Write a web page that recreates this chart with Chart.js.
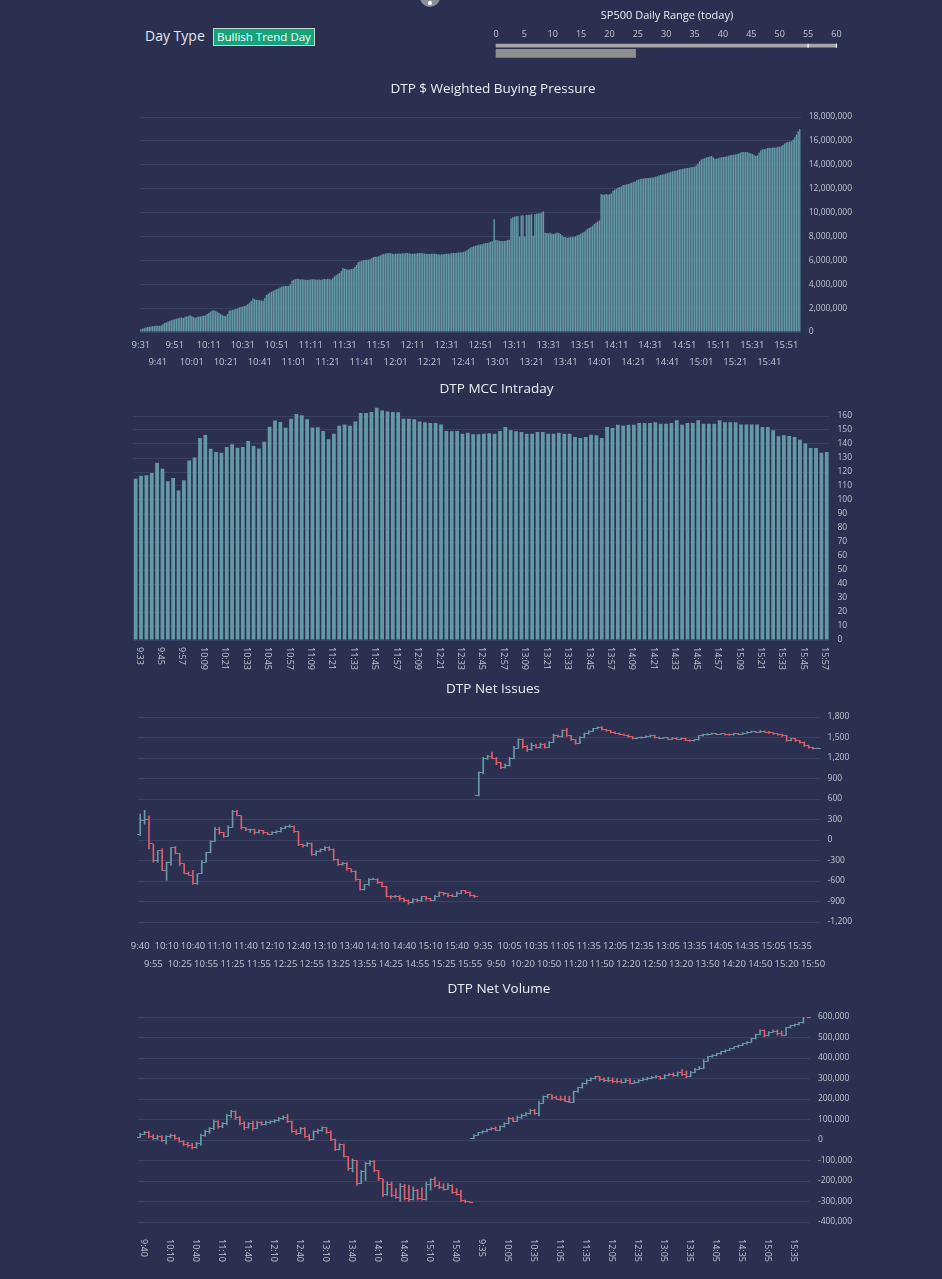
<!DOCTYPE html>
<html lang="en">
<head>
<meta charset="UTF-8">
<title>DTP Intraday</title>
<script src="https://cdn.jsdelivr.net/npm/chart.js"></script>
<style>
  body {
    margin: 0;
    width: 942px;
    height: 1279px;
    overflow: hidden;
    position: relative;
    background: #2b3050;
    font-family: "Open Sans", sans-serif;
    color: #e4e6ee;
  }
  .box { position: absolute; left: 126px; width: 734px; }
  #dayType { position: absolute; left: 145px; top: 26px; font-size: 14px; }
  #badge {
    position: absolute; left: 213px; top: 28px; width: 100px; height: 16px;
    background: #16a27a; border: 1px solid #b9dccf; color: #fff;
    font-size: 11.5px; line-height: 16px; text-align: center;
  }
  #knob {
    position: absolute; left: 420px; top: -13px; width: 20px; height: 20px;
    border-radius: 50%; background: #8d909b;
  }
  #knob::after {
    content: ""; position: absolute; left: 8px; top: 14px; width: 4px; height: 4px;
    border-radius: 50%; background: #fff;
  }
</style>
</head>
<body>
<div id="knob"></div>
<div id="dayType">Day Type</div>
<div id="badge">Bullish Trend Day</div>
<div style="position:absolute; left:486px; top:4px; width:362px; height:58px;"><canvas id="rangeChart"></canvas></div>
<div class="box" style="top:75px; height:297px;"><canvas id="bpChart"></canvas></div>
<div class="box" style="top:375px; height:299px;"><canvas id="mccChart"></canvas></div>
<div class="box" style="top:675px; height:298px;"><canvas id="issuesChart"></canvas></div>
<div class="box" style="top:975px; height:297px;"><canvas id="volumeChart"></canvas></div>

<script>
// ---- data ----
const rangeTicks = [0, 5, 10, 15, 20, 25, 30, 35, 40, 45, 50, 55, 60];
const spRangeToday = 24.6;

// $ weighted buying pressure, millions, one bar per minute from 9:31
const bpValues = [
  0.2,0.27,0.32,0.37,0.42,0.45,0.47,0.49,0.5,0.52,
  0.53,0.53,0.55,0.65,0.76,0.8,0.86,0.93,0.98,1.03,
  1.07,1.1,1.15,1.2,1.22,1.18,1.27,1.3,1.35,1.4,
  1.32,1.25,1.2,1.24,1.28,1.3,1.33,1.36,1.4,1.5,
  1.6,1.69,1.78,1.83,1.75,1.69,1.6,1.5,1.4,1.36,
  1.32,1.5,1.77,1.8,1.85,1.89,1.93,1.98,2.05,2.1,
  2.14,2.17,2.25,2.35,2.45,2.6,2.8,2.75,2.7,2.68,
  2.65,2.63,2.62,2.85,3.1,3.2,3.3,3.38,3.45,3.52,
  3.58,3.65,3.72,3.8,3.84,3.86,3.85,3.86,4.0,4.3,
  4.38,4.42,4.45,4.43,4.4,4.42,4.4,4.38,4.35,4.37,
  4.4,4.42,4.42,4.4,4.38,4.4,4.37,4.4,4.43,4.42,
  4.45,4.42,4.4,4.5,4.65,4.75,4.85,4.93,5.1,5.35,
  5.3,5.25,5.21,5.25,5.28,5.3,5.45,5.6,5.83,5.9,
  5.95,6.0,6.02,6.04,6.06,6.1,6.2,6.28,6.3,6.32,
  6.34,6.4,6.48,6.54,6.58,6.6,6.62,6.6,6.56,6.54,
  6.55,6.56,6.58,6.56,6.6,6.58,6.62,6.62,6.58,6.56,
  6.55,6.56,6.58,6.6,6.62,6.62,6.6,6.56,6.55,6.54,
  6.52,6.55,6.56,6.56,6.54,6.5,6.48,6.48,6.5,6.54,
  6.56,6.56,6.58,6.6,6.62,6.62,6.64,6.66,6.68,6.68,
  6.72,6.76,6.85,6.95,7.05,7.12,7.18,7.22,7.26,7.3,
  7.32,7.35,7.4,7.42,7.45,7.5,7.55,7.6,9.45,7.7,
  7.68,7.65,7.62,7.6,7.62,7.65,7.7,7.72,9.5,9.6,
  9.65,9.7,9.72,8.0,9.75,9.78,8.0,9.8,9.8,9.82,
  9.85,8.05,9.85,9.9,9.92,9.95,10.0,10.1,8.3,8.28,
  8.25,8.3,8.22,8.2,8.25,8.3,8.28,8.2,8.1,7.95,
  7.94,7.9,7.92,7.95,7.94,7.98,8.0,8.1,8.15,8.22,
  8.3,8.4,8.5,8.64,8.7,8.8,8.9,9.05,9.15,9.25,
  9.33,11.55,11.5,11.52,11.55,11.5,11.55,11.6,11.82,11.9,
  12.0,12.1,12.15,12.2,12.3,12.32,12.35,12.4,12.46,12.5,
  12.55,12.6,12.7,12.75,12.8,12.82,12.85,12.88,12.9,12.9,
  12.92,12.93,12.95,13.0,13.05,13.1,13.15,13.18,13.2,13.25,
  13.3,13.35,13.4,13.45,13.48,13.5,13.55,13.6,13.62,13.65,
  13.68,13.7,13.72,13.75,13.8,13.82,13.84,13.95,14.1,14.3,
  14.45,14.5,14.55,14.6,14.65,14.7,14.73,14.6,14.5,14.5,
  14.55,14.6,14.62,14.65,14.68,14.7,14.75,14.8,14.82,14.85,
  14.87,14.9,14.95,15.0,15.06,15.05,15.08,15.05,15.0,14.95,
  14.9,14.85,14.73,14.8,15.0,15.2,15.29,15.3,15.35,15.4,
  15.42,15.4,15.45,15.42,15.45,15.5,15.5,15.55,15.65,15.78,
  15.85,15.9,15.95,15.98,16.1,16.3,16.53,16.8,17.0
];

// MCC, one bar every 3 minutes from 9:33
const mccValues = [
  115.1,117.3,117.7,119.2,126.6,122.3,113.4,115.8,106.7,114.1,
  128.2,130.4,144.2,146.4,136.6,134.2,133.7,137.8,139.9,137.3,
  137.8,142.1,138.5,136.8,141.6,152.4,156.7,155.7,151.6,158.1,
  161.4,160.5,157.6,151.7,151.9,149.3,143.4,147.4,153.1,154.0,
  153.1,156.0,162.1,162.1,162.9,166.0,164.0,163.3,162.9,162.6,
  158.1,158.1,157.6,156.0,155.5,155.0,155.0,154.0,149.3,149.1,
  149.3,147.4,148.1,146.9,146.9,147.4,147.6,147.4,149.3,152.2,
  149.8,149.1,148.6,147.4,147.4,148.6,148.6,147.4,147.4,148.1,
  147.4,147.4,145.0,144.3,145.0,146.6,146.2,144.3,152.2,151.4,
  153.8,153.3,153.8,153.8,155.0,155.0,155.0,155.5,154.5,154.5,
  155.0,156.9,153.8,155.0,155.0,156.9,154.5,154.5,154.5,156.9,
  155.5,155.5,155.5,154.0,154.0,154.0,154.0,152.2,152.2,149.8,
  145.5,146.2,145.7,145.0,143.1,140.3,137.2,137.2,133.8,134.3
];

// net issues, 5 minute bars [open, high, low, close]: previous session from 9:40, today from 9:30
const issuesPrev = [
  [87,378,63,290],[290,436,232,305],[305,353,-131,-58],[-58,-58,-324,-300],[-300,-155,-324,-155],
  [-155,-131,-445,-445],[-445,-324,-590,-324],[-324,-106,-373,-106],[-106,-97,-203,-194],[-194,-194,-373,-348],
  [-348,-348,-494,-484],[-484,-470,-518,-518],[-518,-445,-649,-639],[-639,-494,-649,-494],[-494,-300,-494,-324],
  [-324,-179,-324,-189],[-189,-10,-189,-19],[-19,184,-19,160],[160,184,87,111],[111,111,39,48],
  [48,208,48,184],[184,436,184,416],[416,436,353,353],[353,353,160,184],[184,184,136,150],
  [150,160,111,155],[155,160,87,111],[111,150,100,135],[135,140,87,106],[106,110,77,87],
  [87,121,80,111],[111,136,100,126],[126,184,120,174],[174,203,165,194],[194,223,185,198],
  [198,203,111,126],[126,126,-82,-73],[-73,-60,-106,-82],[-82,-34,-95,-48],[-48,-40,-227,-213],
  [-213,-155,-227,-165],[-165,-131,-175,-145],[-145,-97,-155,-106],[-106,-97,-155,-140],[-140,-130,-300,-290],
  [-290,-280,-373,-358],[-358,-324,-370,-339],[-339,-330,-445,-421],[-421,-421,-470,-455],[-455,-450,-590,-581],
  [-581,-575,-736,-726],[-726,-649,-736,-658],[-658,-566,-665,-576],[-576,-557,-580,-571],[-571,-565,-639,-620],
  [-620,-615,-687,-678],[-678,-678,-832,-823],[-823,-815,-857,-832],[-832,-808,-840,-823],[-823,-815,-881,-857],
  [-857,-850,-905,-881],[-881,-875,-939,-920],[-920,-857,-925,-871],[-871,-860,-905,-890],[-890,-823,-900,-832],
  [-832,-825,-881,-862],[-862,-855,-890,-881],[-881,-808,-885,-823],[-823,-760,-830,-774],[-774,-765,-808,-784],
  [-784,-780,-832,-808],[-808,-800,-830,-823],[-823,-760,-828,-784],[-784,-736,-790,-745],[-745,-740,-784,-765],
  [-765,-760,-823,-808],[-808,-805,-842,-832]
];
const issuesToday = [
  [644,997,644,983],[983,1210,968,1191],[1191,1239,1180,1215],[1215,1287,1191,1200],[1200,1210,1104,1128],
  [1128,1135,1045,1065],[1065,1113,1055,1090],[1090,1210,1080,1191],[1191,1370,1185,1345],[1345,1481,1340,1467],
  [1467,1481,1345,1370],[1370,1380,1297,1321],[1321,1418,1310,1390],[1390,1400,1345,1355],[1355,1418,1345,1400],
  [1400,1410,1345,1360],[1360,1442,1350,1430],[1430,1549,1425,1529],[1529,1540,1500,1510],[1510,1612,1505,1597],
  [1597,1636,1515,1525],[1525,1530,1452,1465],[1465,1470,1404,1418],[1418,1515,1410,1500],[1500,1563,1495,1555],
  [1555,1597,1550,1590],[1590,1636,1585,1630],[1630,1655,1625,1650],[1650,1660,1607,1615],[1615,1620,1588,1600],
  [1600,1605,1568,1578],[1578,1583,1554,1562],[1562,1568,1539,1545],[1545,1550,1529,1535],[1535,1540,1500,1508],
  [1508,1512,1481,1490],[1490,1500,1480,1496],[1496,1510,1488,1504],[1504,1525,1498,1515],[1515,1539,1510,1530],
  [1530,1535,1490,1500],[1500,1505,1481,1490],[1490,1500,1485,1495],[1495,1500,1471,1478],[1478,1500,1472,1492],
  [1492,1498,1467,1475],[1475,1490,1470,1485],[1485,1490,1452,1460],[1460,1465,1442,1450],[1450,1471,1445,1465],
  [1465,1529,1460,1525],[1525,1549,1520,1540],[1540,1558,1535,1550],[1550,1563,1545,1555],[1555,1560,1540,1545],
  [1545,1558,1540,1552],[1552,1558,1535,1545],[1545,1550,1530,1540],[1540,1563,1535,1555],[1555,1560,1540,1548],
  [1548,1573,1545,1565],[1565,1588,1560,1580],[1580,1595,1572,1588],[1588,1592,1570,1575],[1575,1600,1570,1595],
  [1595,1598,1575,1580],[1580,1590,1560,1568],[1568,1572,1545,1552],[1552,1558,1535,1545],[1545,1550,1515,1525],
  [1525,1530,1442,1455],[1455,1490,1450,1480],[1480,1485,1442,1455],[1455,1460,1418,1430],[1430,1435,1370,1385],
  [1385,1390,1345,1355],[1355,1360,1331,1340],[1340,1350,1335,1345]
];

// net volume in thousands, same bars
const volumePrev = [
  [13,32,13,29],[29,42,26,37],[37,42,10,16],[16,26,0,5],[5,24,0,18],
  [18,21,-8,-2],[-2,21,-19,16],[16,29,10,24],[24,26,0,5],[5,13,-11,-6],
  [-6,-3,-27,-21],[-21,-11,-35,-29],[-29,-16,-44,-37],[-37,-11,-40,-16],[-16,29,-27,24],
  [24,48,18,42],[42,61,32,56],[56,97,50,92],[92,94,58,66],[66,85,60,80],
  [80,126,74,118],[118,145,110,140],[140,142,100,110],[110,116,74,80],[80,90,50,60],
  [60,85,58,80],[80,92,48,55],[55,92,55,85],[85,90,72,75],[75,92,72,85],
  [85,94,80,88],[88,100,84,95],[95,110,92,105],[105,118,100,112],[112,126,85,90],
  [90,92,37,42],[42,50,26,32],[32,61,30,55],[55,60,13,18],[18,29,-3,2],
  [2,45,0,40],[40,53,32,48],[48,64,42,60],[60,61,32,35],[35,45,-3,2],
  [2,5,-52,-45],[-45,-19,-48,-24],[-24,-20,-84,-80],[-80,-80,-148,-140],[-140,-92,-156,-100],
  [-100,-100,-221,-210],[-210,-148,-213,-155],[-155,-108,-197,-115],[-115,-100,-124,-105],[-105,-100,-156,-150],
  [-150,-148,-197,-190],[-190,-189,-277,-265],[-265,-205,-270,-215],[-215,-205,-277,-270],[-270,-237,-285,-280],
  [-280,-213,-300,-225],[-225,-216,-293,-285],[-285,-221,-300,-290],[-290,-229,-293,-245],[-245,-240,-293,-285],
  [-285,-232,-293,-288],[-288,-205,-293,-215],[-215,-189,-245,-195],[-195,-181,-229,-222],[-222,-205,-237,-230],
  [-230,-213,-245,-240],[-240,-213,-242,-220],[-220,-218,-261,-255],[-255,-237,-269,-265],[-265,-245,-300,-295],
  [-295,-293,-306,-302],[-302,-300,-306,-305]
];
const volumeToday = [
  [5,26,5,24],[24,37,22,35],[35,45,33,42],[42,53,40,50],[50,61,48,58],
  [58,64,45,48],[48,69,46,65],[65,85,62,80],[80,110,78,105],[105,110,90,92],
  [92,118,90,108],[108,126,105,118],[118,134,116,128],[128,150,126,145],[145,150,125,130],
  [130,190,118,180],[180,214,178,212],[212,223,205,220],[220,220,198,205],[205,214,198,200],
  [200,214,193,198],[198,214,187,190],[190,214,182,185],[185,239,182,235],[235,258,232,255],
  [255,279,252,275],[275,295,272,290],[290,303,288,300],[300,311,298,308],[308,311,287,295],
  [295,303,284,290],[290,306,284,292],[292,303,279,285],[285,300,279,283],[283,295,277,282],
  [282,300,280,292],[292,300,274,278],[278,290,276,282],[282,295,280,290],[290,303,288,295],
  [295,306,293,300],[300,311,298,305],[305,316,303,310],[310,311,295,300],[300,319,298,315],
  [315,324,313,320],[320,327,310,313],[313,332,311,330],[330,343,315,320],[320,337,303,310],
  [310,335,308,330],[330,350,328,345],[345,359,343,350],[350,392,348,385],[385,408,383,405],
  [405,416,403,412],[412,424,410,420],[420,432,418,430],[430,440,428,438],[438,448,436,446],
  [446,456,444,454],[454,464,452,462],[462,472,460,470],[470,480,468,478],[478,497,476,495],
  [495,516,493,514],[514,537,512,535],[535,537,503,510],[510,529,508,525],[525,537,523,530],
  [530,537,511,518],[518,532,508,512],[512,550,510,548],[548,560,546,558],[558,566,555,563],
  [563,574,561,572],[572,606,570,603],[603,606,595,600]
];

function timeRange(start, end, step) {
  const toMin = s => { const [h, m] = s.split(':').map(Number); return h * 60 + m; };
  const out = [];
  for (let t = toMin(start); t <= toMin(end); t += step) {
    out.push(Math.floor(t / 60) + ':' + String(t % 60).padStart(2, '0'));
  }
  return out;
}

const bpTimes = timeRange('9:31', '15:59', 1);
const mccTimes = timeRange('9:33', '16:00', 3);
const barTimes = timeRange('9:40', '16:00', 5).concat(timeRange('9:30', '15:55', 5));

// ---- style ----
const GRID = '#3b4165';
const TICK = '#c3c6d2';
const TITLE = '#eceef4';
const BAR = '#6399a4';
const UP = '#6a98a6';
const DOWN = '#dc5f6c';

Chart.defaults.font.family = '"Open Sans", sans-serif';
Chart.defaults.color = TICK;
Chart.defaults.animation = false;

function chartTitle(text, bottom) {
  return {
    display: true, text, color: TITLE,
    font: { size: 13.5, weight: 'normal' },
    padding: { top: 6, bottom: bottom }
  };
}

function rightAxis(min, max, step) {
  return {
    position: 'right', min, max,
    ticks: { stepSize: step, padding: 8, color: TICK, font: { size: 8.5 }, includeBounds: false },
    grid: { color: GRID, drawTicks: false },
    border: { display: false }
  };
}

function twoRowAxis(labels, every, pad, lineHeight, height, left) {
  return {
    grid: { display: false, drawTicks: false },
    border: { display: false },
    ticks: {
      autoSkip: false, maxRotation: 0, minRotation: 0, padding: pad, color: TICK,
      font: { size: 9.5, lineHeight: lineHeight + 'px' },
      callback(v, i) {
        if (i % (2 * every) === 0) return [labels[i], ''];
        if (i % (2 * every) === every) return ['', labels[i]];
        return null;
      }
    },
    afterFit(s) { s.height = height; s.paddingLeft = left; s.paddingRight = 0; }
  };
}

function verticalAxis(height) {
  return {
    grid: { display: false, drawTicks: false },
    border: { display: false },
    ticks: { display: false, autoSkip: false },
    afterFit(s) { s.height = height; }
  };
}

// tick labels that read top to bottom
const verticalTicks = {
  id: 'verticalTicks',
  afterDraw(chart, args, opts) {
    const sc = chart.scales.x;
    const ctx = chart.ctx;
    ctx.save();
    ctx.fillStyle = TICK;
    ctx.font = '9px "Open Sans", sans-serif';
    ctx.textAlign = 'left';
    ctx.textBaseline = 'middle';
    chart.data.labels.forEach((lab, i) => {
      if (i % opts.every) return;
      ctx.save();
      ctx.translate(sc.getPixelForTick(i) + 3.5, sc.top + opts.pad);
      ctx.rotate(Math.PI / 2);
      ctx.fillText(lab, 0, 0);
      ctx.restore();
    });
    ctx.restore();
  }
};

const tickCache = {};
function tickImage(color, side) {
  const key = color + side;
  if (!tickCache[key]) {
    const c = document.createElement('canvas');
    c.width = 7;
    c.height = 1;
    const g = c.getContext('2d');
    g.fillStyle = color;
    g.fillRect(side === 'open' ? 0 : 4, 0, 3, 1);
    tickCache[key] = c;
  }
  return tickCache[key];
}

function ohlcDatasets(rows, mult) {
  const colors = rows.map(r => (r[3] >= r[0] ? UP : DOWN));
  return [
    { type: 'bar', data: rows.map(r => [r[2] * mult, r[1] * mult]), backgroundColor: colors, barThickness: 1, grouped: false },
    { type: 'line', data: rows.map(r => r[0] * mult), showLine: false, pointRadius: 2, pointHoverRadius: 2,
      pointStyle: colors.map(c => tickImage(c, 'open')) },
    { type: 'line', data: rows.map(r => r[3] * mult), showLine: false, pointRadius: 2, pointHoverRadius: 2,
      pointStyle: colors.map(c => tickImage(c, 'close')) }
  ];
}

const basePlugins = (text, bottom) => ({ legend: { display: false }, tooltip: { enabled: false }, title: chartTitle(text, bottom) });

// ---- SP500 daily range ----
// row 1 holds the ruler with its tick marks, row 2 the range bar
new Chart(document.getElementById('rangeChart'), {
  type: 'bar',
  data: {
    datasets: [
      { data: [{ x: [0, 60], y: 1 }], backgroundColor: '#a6a6a8', barThickness: 3, grouped: false, order: 2, clip: false },
      { data: [{ x: [0, spRangeToday], y: 2 }], backgroundColor: '#8f8f90', barThickness: 8, grouped: false, order: 2, clip: false },
      { type: 'line', data: rangeTicks.map(v => ({ x: v, y: 1 })), showLine: false, order: 0, clip: false,
        pointStyle: 'line', rotation: 90, pointRadius: 2, pointBorderColor: '#ffffff', pointBorderWidth: 1.2 }
    ]
  },
  options: {
    indexAxis: 'y',
    responsive: true, maintainAspectRatio: false,
    layout: { padding: { left: 10, right: 10, bottom: 4 } },
    plugins: {
      legend: { display: false }, tooltip: { enabled: false },
      title: { display: true, text: 'SP500 Daily Range (today)', color: TITLE, font: { size: 11, weight: 'normal' }, padding: { top: 5, bottom: 0 } }
    },
    scales: {
      x: {
        position: 'top', min: 0, max: 60,
        ticks: { stepSize: 5, padding: 6.4, color: TICK, font: { size: 9 } },
        grid: { display: false, drawTicks: false },
        border: { display: false }
      },
      y: { type: 'linear', display: false, reverse: true, offset: false, min: 1.021, max: 2.435 }
    }
  }
});

// ---- DTP $ Weighted Buying Pressure ----
new Chart(document.getElementById('bpChart'), {
  type: 'bar',
  data: {
    labels: bpTimes,
    datasets: [{ data: bpValues.map(v => v * 1e6), backgroundColor: BAR, categoryPercentage: 0.85, barPercentage: 1 }]
  },
  options: {
    responsive: true, maintainAspectRatio: false, locale: 'en-US',
    plugins: basePlugins('DTP $ Weighted Buying Pressure', 19.8),
    scales: {
      x: twoRowAxis(bpTimes, 10, 5, 17, 40, 14),
      y: rightAxis(0, 18e6, 2e6)
    }
  }
});

// ---- DTP MCC Intraday ----
new Chart(document.getElementById('mccChart'), {
  type: 'bar',
  data: {
    labels: mccTimes,
    datasets: [{ data: mccValues, backgroundColor: BAR, categoryPercentage: 0.7, barPercentage: 1 }]
  },
  options: {
    responsive: true, maintainAspectRatio: false, locale: 'en-US',
    layout: { padding: { left: 7 } },
    plugins: Object.assign(basePlugins('DTP MCC Intraday', 10.4), { verticalTicks: { every: 4, pad: 7 } }),
    scales: {
      x: verticalAxis(34),
      y: rightAxis(0, 166, 10)
    }
  },
  plugins: [verticalTicks]
});

// ---- DTP Net Issues ----
new Chart(document.getElementById('issuesChart'), {
  type: 'bar',
  data: { labels: barTimes, datasets: ohlcDatasets(issuesPrev.concat(issuesToday), 1) },
  options: {
    responsive: true, maintainAspectRatio: false, locale: 'en-US',
    plugins: basePlugins('DTP Net Issues', 19.8),
    scales: {
      x: twoRowAxis(barTimes, 3, 15, 18, 51, 12),
      y: rightAxis(-1200, 1800, 300)
    }
  }
});

// ---- DTP Net Volume ----
new Chart(document.getElementById('volumeChart'), {
  type: 'bar',
  data: { labels: barTimes, datasets: ohlcDatasets(volumePrev.concat(volumeToday), 1000) },
  options: {
    responsive: true, maintainAspectRatio: false, locale: 'en-US',
    layout: { padding: { left: 12 } },
    plugins: Object.assign(basePlugins('DTP Net Volume', 19.8), { verticalTicks: { every: 6, pad: 17 } }),
    scales: {
      x: verticalAxis(50),
      y: rightAxis(-400000, 600000, 100000)
    }
  },
  plugins: [verticalTicks]
});
</script>
</body>
</html>
